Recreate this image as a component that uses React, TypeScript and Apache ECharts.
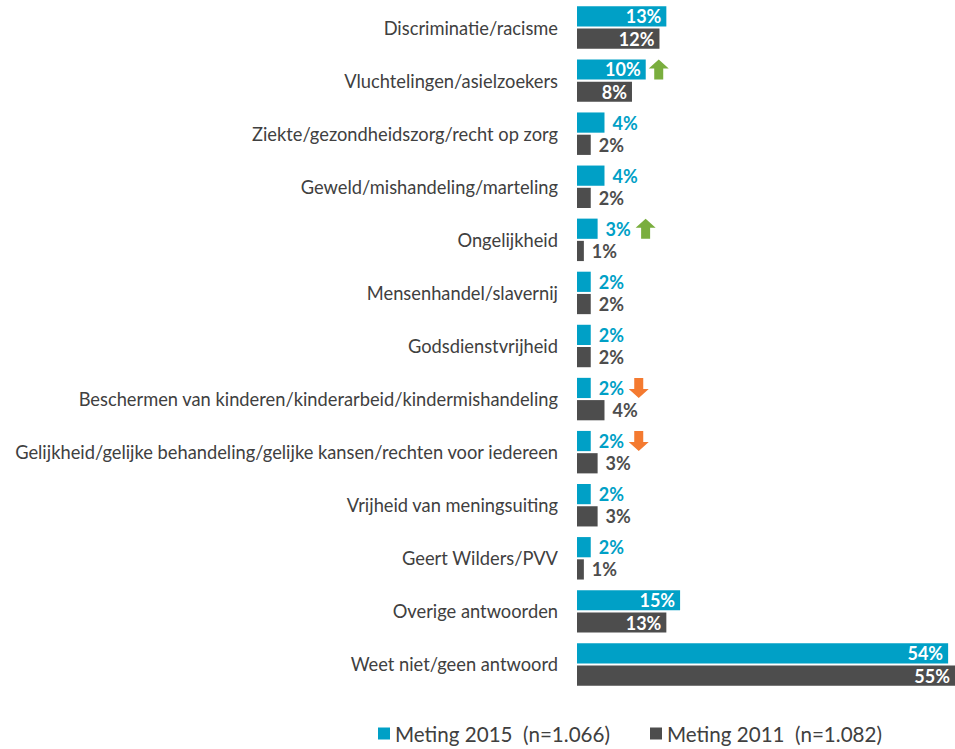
import React, { useEffect, useRef } from "react";
import * as echarts from "echarts";

const categories = [
  "Discriminatie/racisme",
  "Vluchtelingen/asielzoekers",
  "Ziekte/gezondheidszorg/recht op zorg",
  "Geweld/mishandeling/marteling",
  "Ongelijkheid",
  "Mensenhandel/slavernij",
  "Godsdienstvrijheid",
  "Beschermen van kinderen/kinderarbeid/kindermishandeling",
  "Gelijkheid/gelijke behandeling/gelijke kansen/rechten voor iedereen",
  "Vrijheid van meningsuiting",
  "Geert Wilders/PVV",
  "Overige antwoorden",
  "Weet niet/geen antwoord",
];
const values2015 = [13, 10, 4, 4, 3, 2, 2, 2, 2, 2, 2, 15, 54];
const values2011 = [12, 8, 2, 2, 1, 2, 2, 4, 3, 3, 1, 13, 55];
const seriesNames = ["Meting 2015  (n=1.066)", "Meting 2011  (n=1.082)"];
// significant changes for 2015 vs 2011
const changes: { category: string; dir: "up" | "down" }[] = [
  { category: "Vluchtelingen/asielzoekers", dir: "up" },
  { category: "Ongelijkheid", dir: "up" },
  { category: "Beschermen van kinderen/kinderarbeid/kindermishandeling", dir: "down" },
  { category: "Gelijkheid/gelijke behandeling/gelijke kansen/rechten voor iedereen", dir: "down" },
];

const CYAN = "#00A0C6";
const DARK = "#4D4D4D";
const TEXT = "#404040";
const FONT = "Lato, 'Open Sans', sans-serif";
const UP = "path://M10,0 L20,9 L14.5,9 L14.5,20 L5.5,20 L5.5,9 L0,9 Z";
const DOWN = "path://M5.5,0 L14.5,0 L14.5,11 L20,11 L10,20 L0,11 L5.5,11 Z";

function makeData(vals: number[], color: string) {
  return vals.map((v) => ({
    value: v,
    label: {
      position: v >= 5 ? "insideRight" : "right",
      color: v >= 5 ? "#ffffff" : color,
      distance: v >= 5 ? 5 : 8,
    },
  }));
}

export default function App() {
  const ref = useRef<HTMLDivElement>(null);
  useEffect(() => {
    if (!ref.current) return;
    const chart = echarts.init(ref.current, undefined, { renderer: "svg" });
    const markData = changes.map((c) => {
      const idx = categories.indexOf(c.category);
      const v = values2015[idx];
      return {
        coord: [v, c.category],
        symbol: c.dir === "up" ? UP : DOWN,
        symbolSize: [20, 20],
        symbolOffset: [v >= 5 ? 13 : 48, 0],
        itemStyle: { color: c.dir === "up" ? "#7AAE3E" : "#F47A30" },
      };
    });
    chart.setOption({
      animation: false,
      textStyle: { fontFamily: FONT },
      grid: { left: 577, right: 0, top: 1, height: 690, containLabel: false },
      xAxis: {
        type: "value",
        min: 0,
        max: 55,
        show: false,
      },
      yAxis: {
        type: "category",
        data: categories,
        inverse: true,
        axisLine: { show: false },
        axisTick: { show: false },
        splitLine: { show: false },
        axisLabel: {
          color: TEXT,
          fontSize: 18.3,
          margin: 19,
          fontFamily: FONT,
        },
      },
      legend: {
        bottom: 0,
        left: 373,
        icon: "rect",
        itemWidth: 12,
        itemHeight: 12,
        itemGap: 40,
        textStyle: { color: TEXT, fontSize: 20.6, fontFamily: FONT },
        data: seriesNames,
      },
      series: [
        {
          name: seriesNames[0],
          type: "bar",
          data: makeData(values2015, CYAN),
          itemStyle: { color: CYAN },
          barCategoryGap: "20%",
          barGap: "10%",
          label: {
            show: true,
            formatter: "{c}%",
            fontWeight: "bold",
            fontSize: 18,
            fontFamily: FONT,
          },
          markPoint: {
            label: { show: false },
            data: markData,
          },
        },
        {
          name: seriesNames[1],
          type: "bar",
          data: makeData(values2011, DARK),
          itemStyle: { color: DARK },
          barCategoryGap: "20%",
          barGap: "10%",
          label: {
            show: true,
            formatter: "{c}%",
            fontWeight: "bold",
            fontSize: 18,
            fontFamily: FONT,
          },
        },
      ],
    });
    return () => chart.dispose();
  }, []);
  return <div ref={ref} style={{ width: 955, height: 749, position: "absolute", left: 0, top: 0 }} />;
}
